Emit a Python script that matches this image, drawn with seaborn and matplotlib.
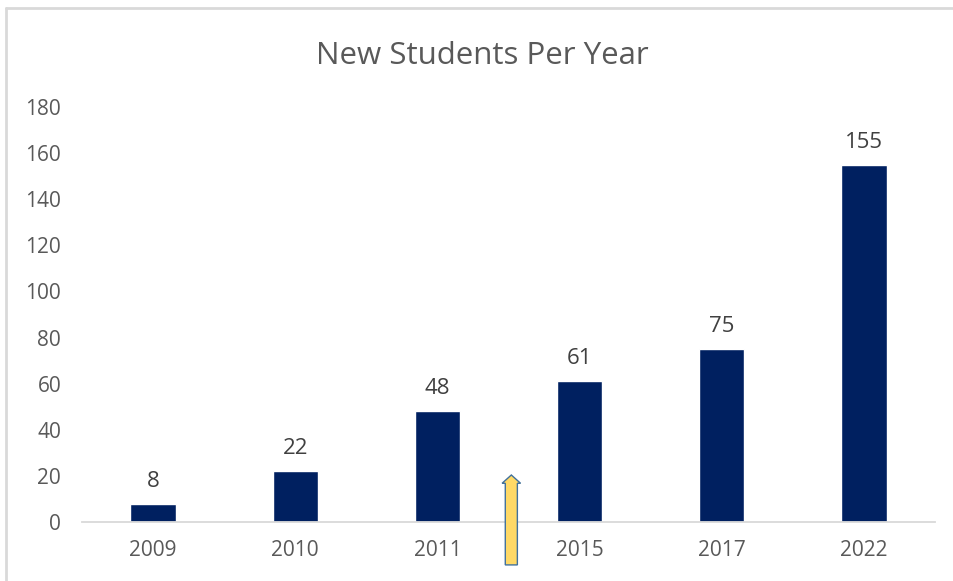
import matplotlib
matplotlib.use("Agg")
import matplotlib.pyplot as plt
import seaborn as sns
import pandas as pd
from matplotlib.patches import FancyArrow
from matplotlib.lines import Line2D

years = ["2009", "2010", "2011", "2015", "2017", "2022"]
students = [8, 22, 48, 61, 75, 155]
yticks = [0, 20, 40, 60, 80, 100, 120, 140, 160, 180]

sns.set_theme(style="white")
plt.rcParams['font.family'] = ['Open Sans', 'DejaVu Sans']

df = pd.DataFrame({"year": years, "students": students})

fig = plt.figure(figsize=(9.54, 5.81), dpi=100)
ax = fig.add_axes([0.086, 0.1015, 0.894, 0.7143])
sns.barplot(data=df, x="year", y="students", color="#002060", width=0.32,
            saturation=1, ax=ax)
ax.set_xlim(-0.5, 5.5)
ax.set_ylim(0, 180)
ax.set_yticks(yticks)
ax.set_yticklabels([str(t) for t in yticks])
ax.set_xlabel("")
ax.set_ylabel("")
for s in ["top", "right", "left"]:
    ax.spines[s].set_visible(False)
ax.spines["bottom"].set_color("#d9d9d9")
ax.spines["bottom"].set_linewidth(1.3)
ax.tick_params(axis="both", length=0, labelsize=15, colors="#595959")
ax.tick_params(axis="y", pad=15)
ax.tick_params(axis="x", pad=13)

for i, v in enumerate(students):
    ax.text(i, v + 7.4, str(v), ha="center", va="baseline", fontsize=16, color="#404040")

ax.set_title("New Students Per Year", fontsize=22.5, color="#595959", pad=31, x=0.469)

arrow = FancyArrow(2.52, -18.6, 0, 39.0, width=0.085, head_width=0.13,
                   head_length=3.6, length_includes_head=True,
                   facecolor="#FFD966", edgecolor="#41719C", linewidth=1.0,
                   clip_on=False, zorder=5)
ax.add_patch(arrow)

# outer border (left and top visible)
fig.add_artist(Line2D([0.006, 0.006], [0.0, 0.986], transform=fig.transFigure,
                      color="#d9d9d9", linewidth=2))
fig.add_artist(Line2D([0.006, 1.0], [0.986, 0.986], transform=fig.transFigure,
                      color="#d9d9d9", linewidth=2))

fig.savefig("out.png", dpi=100, facecolor="white")
